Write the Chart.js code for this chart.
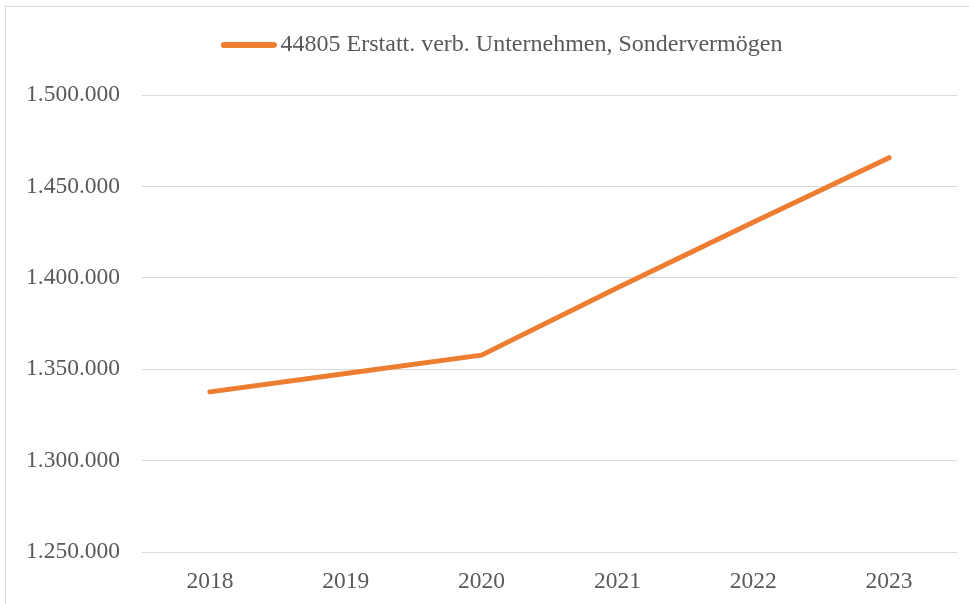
<!DOCTYPE html>
<html lang="de">
<head>
<meta charset="utf-8">
<title>44805 Erstatt. verb. Unternehmen, Sondervermögen</title>
<script src="https://cdn.jsdelivr.net/npm/chart.js@4.4.1/dist/chart.umd.min.js"></script>
<style>
  html, body { margin: 0; padding: 0; background: #fff; overflow: hidden; }
  #frame {
    position: absolute; left: 5px; top: 6px;
    width: 1000px; height: 700px;
    border: 1px solid #d9d9d9;
  }
</style>
</head>
<body>
<div id="frame">
  <canvas id="chart" width="963" height="597"></canvas>
</div>
<script>
const years = ["2018", "2019", "2020", "2021", "2022", "2023"];
const erstattungen = [1337600, 1347600, 1357700, 1394500, 1430400, 1465700];
const seriesLabel = "44805 Erstatt. verb. Unternehmen, Sondervermögen";
const yMin = 1250000;
const yMax = 1500000;
const yStep = 50000;

const orange = "#ED7D31";
const textGrey = "#595959";
const family = "'Liberation Serif', 'Times New Roman', serif";
const tickFont = { family: family, size: 23.5 };
const legendFont = { family: family, size: 24 };

function formatDE(v) {
    return String(Math.round(v)).replace(/\B(?=(\d{3})+(?!\d))/g, ".");
}

// legend marker: short thick line with round ends
const swatch = document.createElement("canvas");
swatch.width = 56;
swatch.height = 6;
(function () {
    const c = swatch.getContext("2d");
    c.strokeStyle = orange;
    c.lineWidth = 6;
    c.lineCap = "round";
    c.beginPath();
    c.moveTo(3, 3);
    c.lineTo(53, 3);
    c.stroke();
})();

// more room between legend and plot, legend nudged right
const legendSpacer = {
    id: "legendSpacer",
    beforeLayout(chart) {
        const lg = chart.legend;
        if (!lg || lg._spaced) return;
        const fit = lg.fit;
        const draw = lg.draw;
        lg.fit = function () {
            fit.call(this);
            this.height += 28;
        };
        lg.draw = function () {
            const ctx = this.ctx;
            ctx.save();
            ctx.translate(24, 0);
            draw.apply(this, arguments);
            ctx.restore();
        };
        lg._spaced = true;
    }
};

new Chart(document.getElementById("chart"), {
    type: "line",
    data: {
        labels: years,
        datasets: [{
            label: seriesLabel,
            data: erstattungen,
            borderColor: orange,
            backgroundColor: orange,
            borderWidth: 5,
            borderCapStyle: "round",
            borderJoinStyle: "round",
            pointRadius: 0,
            tension: 0
        }]
    },
    options: {
        responsive: false,
        animation: false,
        layout: { padding: { left: 0, right: 12, top: 0, bottom: 0 } },
        plugins: {
            tooltip: { enabled: false },
            legend: {
                position: "top",
                labels: {
                    font: legendFont,
                    color: textGrey,
                    usePointStyle: true,
                    pointStyleWidth: 40,
                    padding: 26,
                    generateLabels(chart) {
                        return Chart.defaults.plugins.legend.labels.generateLabels(chart).map(item => {
                            item.pointStyle = swatch;
                            item.lineWidth = 0;
                            return item;
                        });
                    }
                }
            }
        },
        scales: {
            x: {
                offset: true,
                grid: { display: false, drawTicks: false },
                border: { display: false },
                ticks: { font: tickFont, color: textGrey, padding: 16, maxRotation: 0 },
                afterFit(scale) { scale.height = 52; }
            },
            y: {
                min: yMin,
                max: yMax,
                grid: { color: "#d9d9d9", lineWidth: 1, drawTicks: false },
                border: { display: false },
                ticks: {
                    stepSize: yStep,
                    font: tickFont,
                    color: textGrey,
                    padding: 22,
                    callback: v => formatDE(v)
                },
                afterFit(scale) { scale.width = 136; }
            }
        }
    },
    plugins: [legendSpacer]
});
</script>
</body>
</html>
